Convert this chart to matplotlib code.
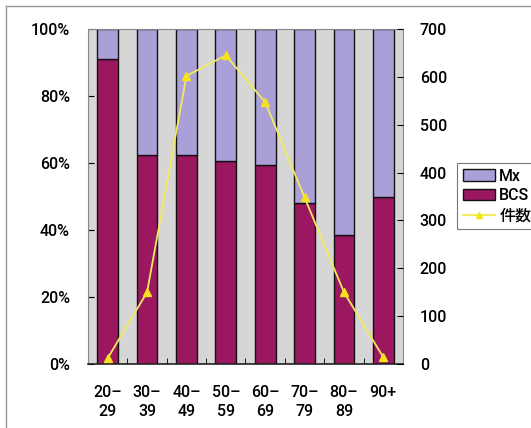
import matplotlib
matplotlib.use("Agg")
import matplotlib.pyplot as plt
from matplotlib.lines import Line2D
import numpy as np

plt.rcParams['font.family'] = ['Roboto', 'Noto Sans CJK JP']
plt.rcParams['font.weight'] = 500

categories = ["20–\n29", "30–\n39", "40–\n49", "50–\n59", "60–\n69", "70–\n79", "80–\n89", "90+"]
bcs_pct = [91, 62.5, 62.5, 60.5, 59.5, 48, 38.5, 50]
mx_pct = [100 - v for v in bcs_pct]
counts = [12, 150, 602, 645, 547, 348, 150, 14]

W, H = 531, 428
fig = plt.figure(figsize=(W / 100, H / 100), dpi=100)
ax = fig.add_axes([88 / W, (H - 364) / H, 315 / W, 335 / H])
ax.set_facecolor("#d6d6d6")

x = np.arange(len(categories))
bw = 0.53
ax.bar(x, bcs_pct, width=bw, color="#9b1760", edgecolor="#111111", linewidth=1.0, label="BCS", zorder=2)
ax.bar(x, mx_pct, width=bw, bottom=bcs_pct, color="#ab9fd8", edgecolor="#111111", linewidth=1.0, label="Mx", zorder=2)
ax.set_xlim(-0.5, len(categories) - 0.5)
ax.set_ylim(0, 100)
ax.set_yticks([0, 20, 40, 60, 80, 100])
ax.set_yticklabels([f"{v}%" for v in [0, 20, 40, 60, 80, 100]], fontsize=11.5)
ax.set_xticks(x)
ax.set_xticklabels(categories, fontsize=11.5, linespacing=1.35)
ax.tick_params(axis="x", length=0, pad=15)
ax.set_xticks(np.arange(0.5, len(categories) - 1, 1), minor=True)
ax.tick_params(axis="x", which="minor", length=4, direction="in")
ax.tick_params(axis="y", length=4, direction="in", pad=13)
for s in ["top", "right", "left"]:
    ax.spines[s].set_color("#888888")
ax.spines["bottom"].set_color("#222222")
ax.spines["bottom"].set_linewidth(1.2)

ax2 = ax.twinx()
ax2.plot(x, counts, color="#f4ea5e", linewidth=1.3, marker="^", markersize=6,
         markerfacecolor="#f6e21c", markeredgecolor="#f6e21c", label="件数", zorder=3)
ax2.set_ylim(0, 700)
ax2.set_yticks(range(0, 701, 100))
ax2.tick_params(axis="y", length=4, direction="in", labelsize=11.5, pad=12)
for s in ["top", "right", "left", "bottom"]:
    ax2.spines[s].set_visible(False)

handles = [
    plt.Rectangle((0, 0), 1, 1, facecolor="#ab9fd8", edgecolor="#111111"),
    plt.Rectangle((0, 0), 1, 1, facecolor="#9b1760", edgecolor="#111111"),
    Line2D([0], [0], color="#f4ea5e", marker="^", markerfacecolor="#f6e21c",
           markeredgecolor="#f6e21c", markersize=5),
]
leg = fig.legend(handles, ["Mx", "BCS", "件数"], loc="upper left",
                 bbox_to_anchor=(457 / W, 1 - 163 / H), borderaxespad=0, fontsize=11.5,
                 frameon=True, fancybox=False, edgecolor="#555555",
                 borderpad=0.35, labelspacing=0.3, handlelength=2.0, handleheight=0.7,
                 handletextpad=0.3)
leg.get_frame().set_linewidth(0.8)

# outer frame
fig.add_artist(Line2D([6 / W, 6 / W], [0, 1 - 6 / H], color="#999999", linewidth=1.0))
fig.add_artist(Line2D([6 / W, 1], [1 - 6 / H, 1 - 6 / H], color="#999999", linewidth=1.0))

fig.savefig("out.png", dpi=100)
